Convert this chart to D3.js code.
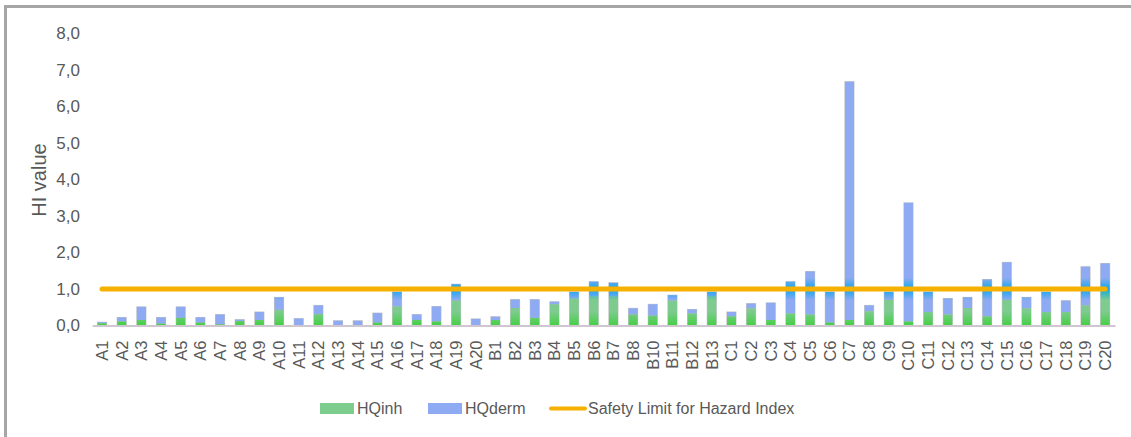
<!DOCTYPE html>
<html><head><meta charset="utf-8">
<script src="https://cdn.jsdelivr.net/npm/d3@7"></script>
<style>html,body{margin:0;padding:0;background:#fff;}svg{display:block;}</style>
</head><body>
<script>
const categories = ["A1","A2","A3","A4","A5","A6","A7","A8","A9","A10","A11","A12","A13","A14","A15","A16","A17","A18","A19","A20",
"B1","B2","B3","B4","B5","B6","B7","B8","B10","B11","B12","B13",
"C1","C2","C3","C4","C5","C6","C7","C8","C9","C10","C11","C12","C13","C14","C15","C16","C17","C18","C19","C20"];
const hqInh = [0.06,0.11,0.15,0.05,0.21,0.08,0.03,0.12,0.15,0.43,0.01,0.31,0.01,0.01,0.08,0.52,0.15,0.11,0.68,0.01,
0.15,0.48,0.21,0.58,0.74,0.80,0.80,0.30,0.27,0.68,0.33,0.80,
0.25,0.47,0.15,0.33,0.30,0.08,0.15,0.39,0.70,0.11,0.37,0.30,0.48,0.25,0.70,0.47,0.37,0.37,0.55,0.96];
const hqDerm = [0.03,0.11,0.36,0.17,0.30,0.14,0.27,0.04,0.22,0.34,0.18,0.24,0.12,0.12,0.26,0.40,0.15,0.41,0.45,0.17,
0.09,0.23,0.50,0.07,0.18,0.40,0.37,0.17,0.31,0.15,0.11,0.12,
0.12,0.13,0.47,0.87,1.18,0.84,6.53,0.16,0.22,3.25,0.55,0.44,0.29,1.01,1.03,0.30,0.55,0.31,1.06,0.74];
const safetyLimit = 1.0;
const yTicks = [0,1,2,3,4,5,6,7,8];
const seriesNames = ["HQinh","HQderm","Safety Limit for Hazard Index"];

const W = 1131, H = 437;
const svg = d3.select("body").append("svg").attr("width", W).attr("height", H);
const font = "'Liberation Sans', Arial, sans-serif";

// outer frame
svg.append("rect").attr("x",5.5).attr("y",6.5).attr("width",W+20).attr("height",H+20)
  .attr("fill","none").attr("stroke","#a6a6a6").attr("stroke-width",3);

const x = d3.scaleBand().domain(categories).range([92.2, 1115]).paddingInner(0.54).paddingOuter(0.27);
const y = d3.scaleLinear().domain([0, 8]).range([325.5, 33.5]);

const defs = svg.append("defs");
const gG = defs.append("linearGradient").attr("id","gInh").attr("gradientUnits","userSpaceOnUse")
  .attr("x1",0).attr("x2",0).attr("y1",y(0)-14).attr("y2",y(0));
gG.append("stop").attr("offset",0).attr("stop-color","#7dcb8e");
gG.append("stop").attr("offset",1).attr("stop-color","#45cf45");
const gl = defs.append("linearGradient").attr("id","glow").attr("x1",0).attr("x2",0).attr("y1",0).attr("y2",1);
gl.append("stop").attr("offset",0).attr("stop-color","#00a8f0").attr("stop-opacity",0);
gl.append("stop").attr("offset",0.5).attr("stop-color","#00a8f0").attr("stop-opacity",0.9);
gl.append("stop").attr("offset",1).attr("stop-color","#00a8f0").attr("stop-opacity",0);

// y tick labels
const fmt = d => d3.format(".1f")(d).replace(".", ",");
const yAxis = d3.axisLeft(y).tickValues(yTicks).tickFormat(fmt).tickSize(0).tickPadding(0);
const ya = svg.append("g").attr("transform","translate(80,0)").call(yAxis);
ya.select(".domain").remove();
ya.selectAll("text").attr("font-family",font).attr("font-size",17).attr("fill","#595959");

// y title
svg.append("text").attr("transform","translate(46,180) rotate(-90)").attr("text-anchor","middle")
  .attr("font-family",font).attr("font-size",20).attr("fill","#595959").text("HI value");

// bars
const data = categories.map((c,i)=>({c, inh:hqInh[i], derm:hqDerm[i]}));
const bars = svg.append("g");
bars.selectAll("rect.outline").data(data).join("rect").attr("class","outline")
  .attr("x", d=>x(d.c)-0.5).attr("width", x.bandwidth()+1)
  .attr("y", d=>y(d.inh+d.derm)-0.5).attr("height", d=>y(0)-y(d.inh+d.derm)+0.5)
  .attr("fill","#c4c4c4");
bars.selectAll("rect.derm").data(data).join("rect").attr("class","derm")
  .attr("x", d=>x(d.c)).attr("width", x.bandwidth())
  .attr("y", d=>y(d.inh+d.derm)).attr("height", d=>y(d.inh)-y(d.inh+d.derm))
  .attr("fill","#8eaaf2");
bars.selectAll("rect.inh").data(data).join("rect").attr("class","inh")
  .attr("x", d=>x(d.c)).attr("width", x.bandwidth())
  .attr("y", d=>y(d.inh)).attr("height", d=>y(0)-y(d.inh))
  .attr("fill","url(#gInh)");

// glow tint where bars meet the limit line
const clip = defs.append("clipPath").attr("id","barClip");
clip.selectAll("rect").data(data).join("rect")
  .attr("x", d=>x(d.c)).attr("width", x.bandwidth())
  .attr("y", d=>y(d.inh+d.derm)).attr("height", d=>y(0)-y(d.inh+d.derm));
svg.append("rect").attr("clip-path","url(#barClip)")
  .attr("x", x.range()[0]).attr("width", x.range()[1]-x.range()[0])
  .attr("y", y(safetyLimit)-11).attr("height", 22).attr("fill","url(#glow)");

// x axis
const xAxis = d3.axisBottom(x).tickSize(0).tickPadding(0);
const xa = svg.append("g").attr("transform",`translate(0,${y(0)})`).call(xAxis);
xa.select(".domain").attr("stroke","#cfc6cf").attr("stroke-width",2);
xa.selectAll(".tick text").attr("font-family",font).attr("font-size",16.5).attr("fill","#595959")
  .attr("text-anchor","end").attr("dy",null).attr("y",0)
  .attr("transform","translate(6,15) rotate(-90)");

// safety limit line
const first = categories[0], last = categories[categories.length-1];
svg.append("line")
  .attr("x1", x(first)+x.bandwidth()/2).attr("x2", x(last)+x.bandwidth()/2)
  .attr("y1", y(safetyLimit)).attr("y2", y(safetyLimit))
  .attr("stroke","#f5b000").attr("stroke-width",5).attr("stroke-linecap","round");

// legend
const lg = svg.append("g").attr("font-family",font).attr("font-size",16).attr("fill","#595959");
lg.append("rect").attr("x",320).attr("y",403).attr("width",34).attr("height",11).attr("fill","#7dcd8e");
lg.append("text").attr("x",357).attr("y",414).text(seriesNames[0]);
lg.append("rect").attr("x",428).attr("y",403).attr("width",34).attr("height",11).attr("fill","#8eaaf2");
lg.append("text").attr("x",465).attr("y",414).text(seriesNames[1]);
lg.append("line").attr("x1",551).attr("x2",585).attr("y1",408.5).attr("y2",408.5)
  .attr("stroke","#f5b000").attr("stroke-width",4).attr("stroke-linecap","round");
lg.append("text").attr("x",588).attr("y",414).text(seriesNames[2]);
</script>
</body></html>
